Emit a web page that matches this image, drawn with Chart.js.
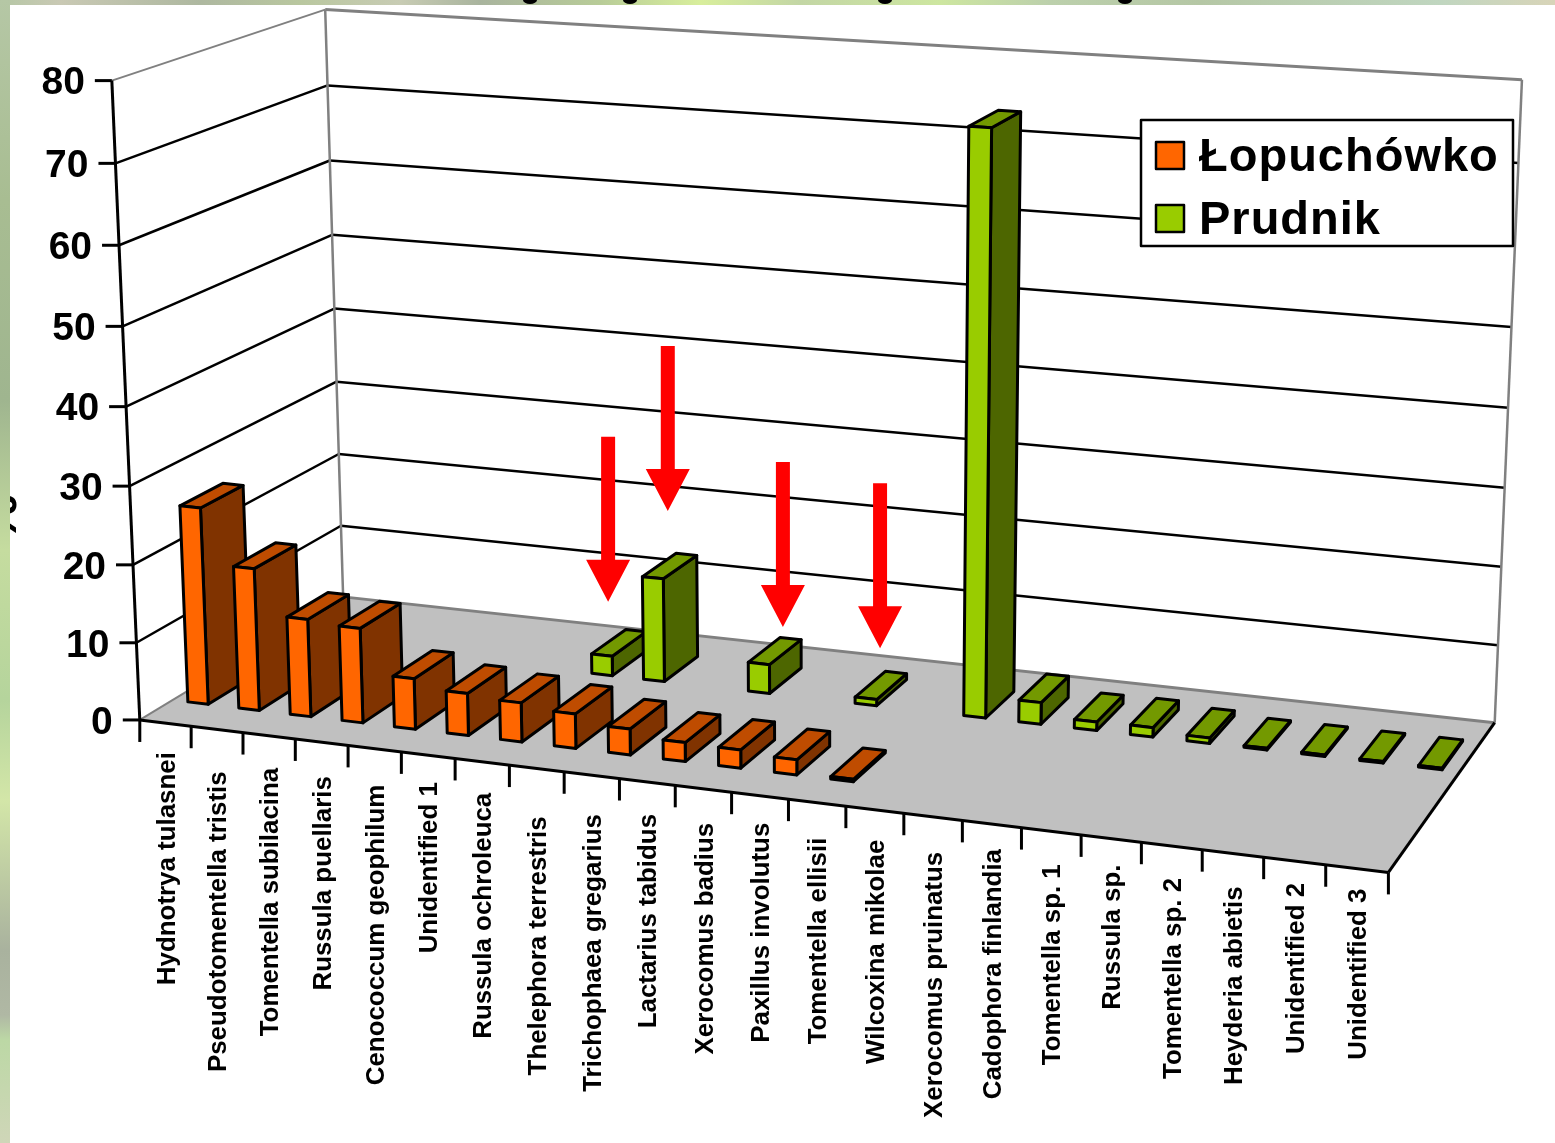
<!DOCTYPE html>
<html>
<head>
<meta charset="utf-8">
<title>Species abundance</title>
<script src="https://cdn.jsdelivr.net/npm/chart.js@4"></script>
<style>
  html, body { margin: 0; padding: 0; background: #fff; }
  #stage { position: relative; width: 1555px; height: 1143px; overflow: hidden; background: #fff; }
  #stripTop { position: absolute; left: 0; top: 0; width: 1555px; height: 5px;
    background: linear-gradient(to right, #b5c7a5 0, #c9c9b4 60px, #aeb8a0 200px, #b9c79f 300px, #c8ccb4 400px, #a9b49e 480px, #b8cc98 600px, #d8ee9c 700px, #c3d6a5 800px, #cde6a0 940px, #bcd0ac 1050px, #b5c7a5 1200px, #c0d6c0 1440px, #d8d4b8 1555px); }
  #stripLeft { position: absolute; left: 0; top: 0; width: 10px; height: 1143px;
    background: linear-gradient(to bottom, #b5c7a5 0, #a8bd92 200px, #9fb58f 400px, #c5dc9f 550px, #b5d49c 700px, #d3e6a8 800px, #a9b29e 950px, #b0b8a4 1015px, #bcd8a5 1040px, #cfd6b8 1143px); }
  canvas { position: absolute; left: 0; top: 0; }
</style>
</head>
<body>
<div id="stage">
  <div id="stripTop"></div>
  <div id="stripLeft"></div>
  <canvas id="chart" width="1555" height="1143"></canvas>
</div>
<script>
// Chart data
const categories = ['Hydnotrya tulasnei', 'Pseudotomentella tristis', 'Tomentella subilacina', 'Russula puellaris',
    'Cenococcum geophilum', 'Unidentified 1', 'Russula ochroleuca', 'Thelephora terrestris', 'Trichophaea gregarius',
    'Lactarius tabidus', 'Xerocomus badius', 'Paxillus involutus', 'Tomentella ellisii', 'Wilcoxina mikolae',
    'Xerocomus pruinatus', 'Cadophora finlandia', 'Tomentella sp. 1', 'Russula sp.', 'Tomentella sp. 2',
    'Heyderia abietis', 'Unidentified 2', 'Unidentified 3'];
const seriesNames = ['Łopuchówko', 'Prudnik'];
const lopuchowko = [25.5, 18.4, 12.6, 12.2, 6.5, 5.4, 5, 4.4, 3.3, 2.4, 2.3, 1.9, 0.3, null, null, null, null, null, null, null, null, null];
const prudnik = [null, null, null, null, null, null, 2.6, 13.6, null, 3.8, null, 0.8, null, 74, 2.8, 1.1, 1.2, 0.7, 0.2, 0.2, 0.2, 0.2];
const yTickLabels = ['0', '10', '20', '30', '40', '50', '60', '70', '80'];
const arrowTargets = [6, 7, 9, 11];  // Prudnik bars marked with a red arrow

// Layout of the 3D box on the page: [u, depth, height] -> [x, y]
const boxCorners = [
    [0, 0, 0, 140, 720], [1, 0, 0, 1388, 873], [0, 1, 0, 343, 597], [1, 1, 0, 1495, 722],
    [0, 1, 1, 325, 10], [1, 1, 1, 1522, 80], [0, 0, 1, 112, 80]
];
const rowDepth = [[0.15, 0.35], [0.65, 0.85]];
const faceColors = [
    { front: '#FF6600', side: '#803300', top: '#BF4C00' },
    { front: '#99CC00', side: '#4D6600', top: '#739900' }
];
// distance from the axis to the end of each rotated label
const labelDrop = [29, 42, 32, 34, 36, 27, 31, 48, 39, 32, 34, 27, 35, 30, 35, 25, 33, 26, 32, 33, 22, 20];
const arrowOffset = [[-11, -41], [-2, -55], [8, -24], [-1, -37]];
const titleTails = [530, 630, 885, 1125];

// Least squares fit of the projection matrix
function solveProjection(points) {
    const rows = [], rhs = [];
    points.forEach(([u, d, h, x, y]) => {
        rows.push([u, d, h, 1, 0, 0, 0, 0, -x * u, -x * d, -x * h]); rhs.push(x);
        rows.push([0, 0, 0, 0, u, d, h, 1, -y * u, -y * d, -y * h]); rhs.push(y);
    });
    const n = 11;
    const m = [];
    for (let i = 0; i < n; i++) {
        m.push(new Array(n + 1).fill(0));
        for (let j = 0; j < n; j++) rows.forEach(r => { m[i][j] += r[i] * r[j]; });
        rows.forEach((r, k) => { m[i][n] += r[i] * rhs[k]; });
    }
    for (let c = 0; c < n; c++) {
        let best = c;
        for (let r = c + 1; r < n; r++) if (Math.abs(m[r][c]) > Math.abs(m[best][c])) best = r;
        [m[c], m[best]] = [m[best], m[c]];
        for (let r = 0; r < n; r++) {
            if (r === c) continue;
            const f = m[r][c] / m[c][c];
            for (let k = c; k <= n; k++) m[r][k] -= f * m[c][k];
        }
    }
    return m.map((row, i) => row[n] / row[i]);
}
const P = solveProjection(boxCorners);
const project = (u, d, h) => {
    const w = P[8] * u + P[9] * d + P[10] * h + 1;
    return [(P[0] * u + P[1] * d + P[2] * h + P[3]) / w, (P[4] * u + P[5] * d + P[6] * h + P[7]) / w];
};

function poly(ctx, pts, fill, stroke, lw) {
    ctx.beginPath();
    pts.forEach((p, i) => i ? ctx.lineTo(p[0], p[1]) : ctx.moveTo(p[0], p[1]));
    ctx.closePath();
    if (fill) { ctx.fillStyle = fill; ctx.fill(); }
    if (stroke) { ctx.strokeStyle = stroke; ctx.lineWidth = lw; ctx.lineJoin = 'round'; ctx.stroke(); }
}
function seg(ctx, a, b, color, lw) {
    ctx.beginPath();
    ctx.moveTo(a[0], a[1]);
    ctx.lineTo(b[0], b[1]);
    ctx.strokeStyle = color;
    ctx.lineWidth = lw;
    ctx.stroke();
}

// Bar geometry in box coordinates, read from the chart's own elements
function barBox(chart, bar, row) {
    const area = chart.chartArea;
    const u0 = (bar.x - bar.width / 2 - area.left) / area.width;
    const u1 = (bar.x + bar.width / 2 - area.left) / area.width;
    const h = (area.bottom - bar.y) / area.height;
    return { u0, u1, h, d0: rowDepth[row][0], d1: rowDepth[row][1] };
}

const scene3d = {
    id: 'scene3d',
    // replaces the flat bars
    beforeDatasetsDraw(chart) {
        const ctx = chart.ctx;
        const yScale = chart.scales.y, area = chart.chartArea;
        const hOf = v => (area.bottom - yScale.getPixelForValue(v)) / area.height;
        ctx.save();

        // cut off title and axis title at the picture's edges
        ctx.fillStyle = '#000';
        titleTails.forEach(x => { ctx.beginPath(); ctx.ellipse(x, 0, 7, 4, 0, 0, Math.PI * 2); ctx.fill(); });
        ctx.save();
        ctx.beginPath(); ctx.rect(10, 480, 20, 80); ctx.clip();
        ctx.translate(16, 518); ctx.rotate(-Math.PI / 2);
        ctx.font = 'bold 54px "Liberation Sans"';
        ctx.textAlign = 'center'; ctx.textBaseline = 'alphabetic';
        ctx.fillText('%', 0, 0);
        ctx.restore();

        // floor
        poly(ctx, [project(0, 0, 0), project(1, 0, 0), project(1, 1, 0), project(0, 1, 0)], '#C0C0C0');

        // grid on the walls
        yScale.ticks.forEach(t => {
            if (t.value === 0) return;
            const h = hOf(t.value);
            if (t.value < 80) seg(ctx, project(0, 1, h), project(1, 1, h), '#000', 2.5);
            if (t.value < 80) seg(ctx, project(0, 0, h), project(0, 1, h), '#000', 2.5);
        });
        // wall edges
        const grey = '#808080';
        seg(ctx, project(0, 1, 1), project(1, 1, 1), grey, 3);
        seg(ctx, project(0, 0, 1), project(0, 1, 1), grey, 2);
        seg(ctx, project(0, 1, 0), project(0, 1, 1), grey, 2.5);
        seg(ctx, project(1, 1, 0), project(1, 1, 1), grey, 2.5);
        seg(ctx, project(0, 1, 0), project(1, 1, 0), grey, 3);
        seg(ctx, project(0, 0, 0), project(0, 1, 0), grey, 2);
        seg(ctx, project(1, 0, 0), project(1, 1, 0), '#000', 3);

        // value axis, category axis and their ticks
        seg(ctx, project(0, 0, 0), project(0, 0, 1), '#000', 3);
        seg(ctx, project(0, 0, 0), project(1, 0, 0), '#000', 3);
        ctx.fillStyle = '#000';
        ctx.font = 'bold 39px "Liberation Sans"';
        ctx.textAlign = 'right';
        ctx.textBaseline = 'middle';
        yScale.ticks.forEach(t => {
            const p = project(0, 0, hOf(t.value));
            seg(ctx, [p[0] - 17, p[1]], p, '#000', 3);
            ctx.fillStyle = '#000';
            ctx.fillText(String(t.value), p[0] - 27, p[1] + 3);
        });
        const n = categories.length;
        for (let i = 0; i <= n; i++) {
            const p = project(i / n, 0, 0);
            seg(ctx, p, [p[0], p[1] + 22], '#000', 3);
        }
        ctx.font = 'bold 25.9px "Liberation Sans"';
        categories.forEach((name, i) => {
            const p = project((i + 0.5) / n, 0, 0);
            ctx.save();
            ctx.translate(p[0] + 2, p[1] + labelDrop[i]);
            ctx.rotate(-Math.PI / 2);
            ctx.fillStyle = '#000';
            ctx.fillText(name, 0, 0);
            ctx.restore();
        });

        // bars, back row first, left to right
        [1, 0].forEach(row => {
            const colors = faceColors[row];
            chart.getDatasetMeta(row).data.forEach((bar, i) => {
                if (chart.data.datasets[row].data[i] === null) return;
                const b = barBox(chart, bar, row);
                const fbl = project(b.u0, b.d0, 0), fbr = project(b.u1, b.d0, 0);
                const ftl = project(b.u0, b.d0, b.h), ftr = project(b.u1, b.d0, b.h);
                const bbr = project(b.u1, b.d1, 0), btr = project(b.u1, b.d1, b.h);
                const btl = project(b.u0, b.d1, b.h);
                poly(ctx, [fbr, bbr, btr, ftr], colors.side, '#000', 3);
                poly(ctx, [ftl, ftr, btr, btl], colors.top, '#000', 3);
                poly(ctx, [fbl, fbr, ftr, ftl], colors.front, '#000', 3);
            });
        });

        // red arrows above the marked bars
        arrowTargets.forEach((i, k) => {
            const bar = chart.getDatasetMeta(1).data[i];
            const b = barBox(chart, bar, 1);
            const c = project((b.u0 + b.u1) / 2, (b.d0 + b.d1) / 2, b.h);
            const tip = [c[0] + arrowOffset[k][0], c[1] + arrowOffset[k][1]];
            poly(ctx, [[tip[0], tip[1]], [tip[0] - 22, tip[1] - 42], [tip[0] - 7, tip[1] - 42], [tip[0] - 7, tip[1] - 165],
                [tip[0] + 7, tip[1] - 165], [tip[0] + 7, tip[1] - 42], [tip[0] + 22, tip[1] - 42]], '#FF0000');
        });

        // legend
        ctx.fillStyle = '#fff';
        ctx.fillRect(1141, 120, 372, 126);
        ctx.strokeStyle = '#000';
        ctx.lineWidth = 2.5;
        ctx.strokeRect(1141, 120, 372, 126);
        ctx.font = 'bold 47px "Liberation Sans"';
        ctx.textAlign = 'left';
        ctx.textBaseline = 'alphabetic';
        chart.data.datasets.forEach((ds, i) => {
            const y = 142 + i * 63;
            ctx.fillStyle = faceColors[i].front;
            ctx.fillRect(1156, y, 28, 27);
            ctx.strokeRect(1156, y, 28, 27);
            ctx.fillStyle = '#000';
            ctx.letterSpacing = i === 0 ? '1px' : '1px';
            ctx.fillText(ds.label, 1199, y + 29);
        });
        ctx.letterSpacing = '0px';
        ctx.restore();
        return false;
    }
};

new Chart(document.getElementById('chart'), {
    type: 'bar',
    plugins: [scene3d],
    data: {
        labels: categories,
        datasets: [
            { label: seriesNames[0], data: lopuchowko, backgroundColor: faceColors[0].front },
            { label: seriesNames[1], data: prudnik, backgroundColor: faceColors[1].front }
        ]
    },
    options: {
        responsive: false,
        animation: false,
        grouped: false,
        barPercentage: 0.4,
        categoryPercentage: 1,
        layout: { padding: 0 },
        plugins: { legend: { display: false }, tooltip: { enabled: false } },
        scales: {
            x: { display: false },
            y: {
                display: false,
                min: 0,
                max: 80,
                afterBuildTicks: scale => { scale.ticks = yTickLabels.map(v => ({ value: Number(v) })); }
            }
        }
    }
});
</script>
</body>
</html>
